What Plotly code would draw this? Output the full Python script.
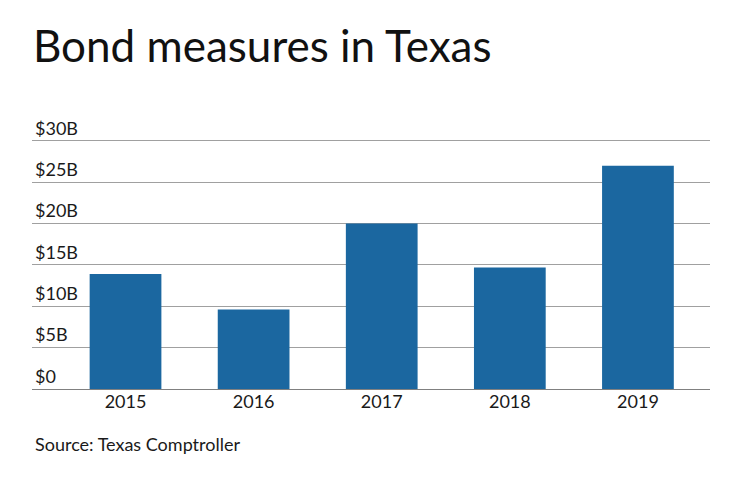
import plotly.graph_objects as go

years = ["2015", "2016", "2017", "2018", "2019"]
values_billion = [13.9, 9.6, 20.0, 14.7, 27.0]
tick_vals = [0, 5, 10, 15, 20, 25, 30]
tick_text = ["$0", "$5B", "$10B", "$15B", "$20B", "$25B", "$30B"]

fig = go.Figure()
fig.add_trace(go.Bar(x=years, y=values_billion, marker=dict(color="#1b67a0", line=dict(width=0)),
                     hoverinfo="skip"))

fig.update_layout(
    width=740, height=482,
    margin=dict(l=24, r=38, t=108, b=101),
    paper_bgcolor="white", plot_bgcolor="white",
    bargap=0.44,
    showlegend=False,
    font=dict(family="Lato", color="#222222"),
    title=dict(text="Bond measures in Texas", x=25/740, xref="container", xanchor="left",
               y=1-38.5/482, yref="container", yanchor="middle",
               font=dict(family="Lato", size=44, color="#111111")),
    xaxis=dict(range=[-0.73, 4.5625], showgrid=False, showline=False, ticks="",
               tickfont=dict(size=18, color="#1a1a1a"), zeroline=False),
    yaxis=dict(range=[0, 33], tickvals=tick_vals, ticktext=tick_text,
               ticklabelposition="inside top", ticks="", showgrid=True,
               gridcolor="#a0a0a0", gridwidth=1, zeroline=True, zerolinecolor="#808080",
               zerolinewidth=1.2, tickfont=dict(size=18, color="#1a1a1a"),
               showline=False),
    annotations=[dict(text="Source: Texas Comptroller", xref="paper", yref="paper",
                      x=0.0015, y=-0.203, xanchor="left", yanchor="middle", showarrow=False,
                      font=dict(family="Lato", size=18, color="#1a1a1a"))],
)

fig.write_html("out.html")
